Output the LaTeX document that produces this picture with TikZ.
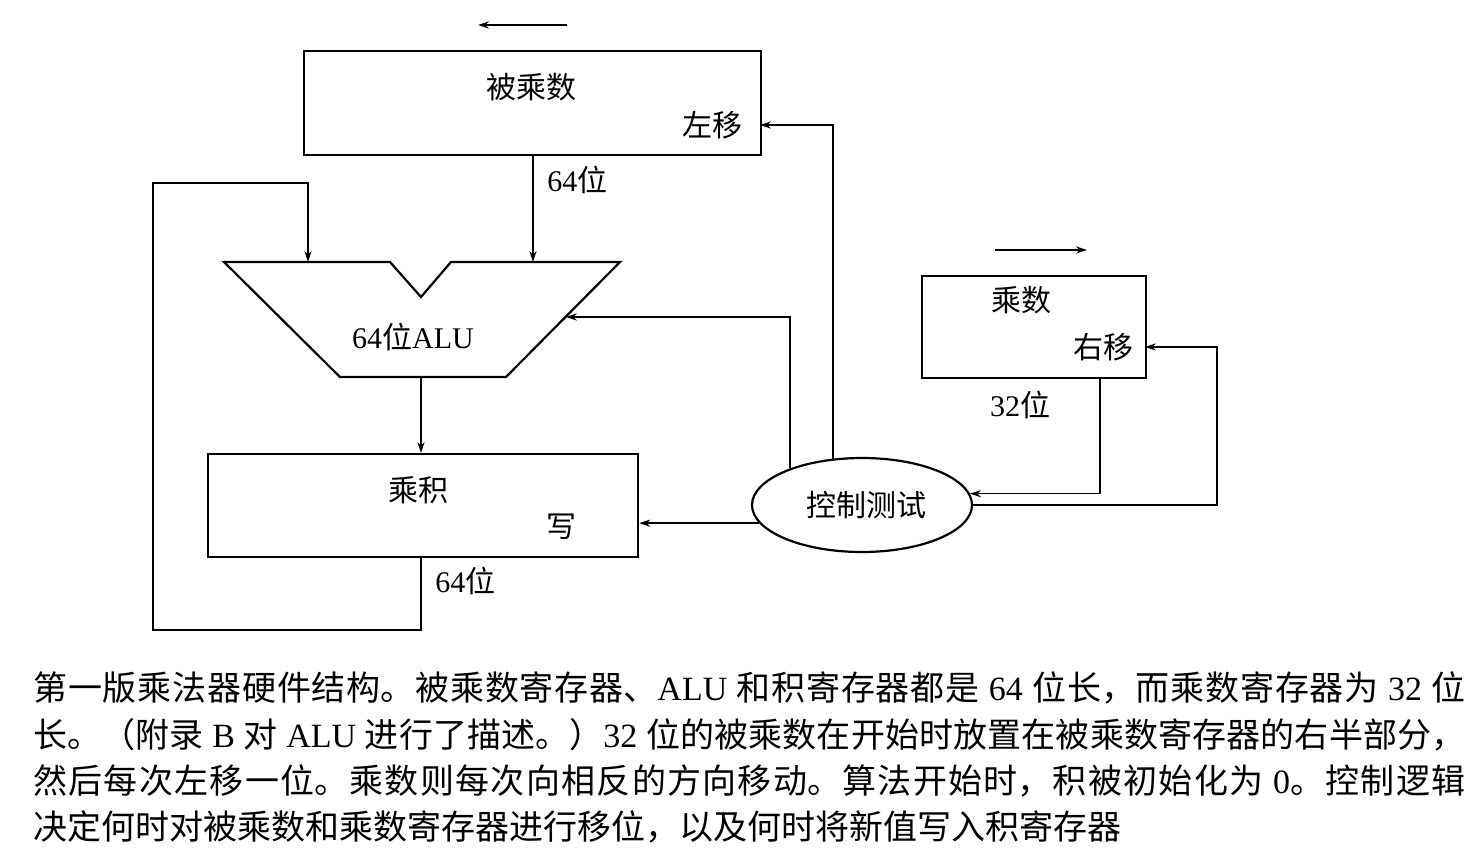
\documentclass[tikz,border=0pt]{standalone}
\usepackage{fontspec}
\setmainfont{Liberation Serif}
\newfontfamily\cjk{Noto Sans CJK SC}
\usetikzlibrary{shapes.geometric,arrows.meta}
\XeTeXlinebreaklocale "zh"
\XeTeXlinebreakskip=0pt plus 2pt
\newcommand{\jline}[1]{\parbox{716pt}{\parindent=0pt\parfillskip=0pt\relax #1\par}}
\begin{document}
\begin{tikzpicture}[x=0.5pt,y=-0.5pt,
  reg/.style={draw,line width=1.1pt,inner sep=0,anchor=north west},
  lab/.style={font=\fontsize{15}{18}\selectfont,inner sep=0},
  arr/.style={line width=0.75pt,-{Stealth[length=5.5pt,width=3.6pt]}},
  captext/.style={font=\fontsize{17}{20}\selectfont,inner sep=0,anchor=west}]
\useasboundingbox (0,0) rectangle (1484,853);
% registers
\node[reg,minimum width=228.5pt,minimum height=52pt] (mcand) at (303,50) {};
\node[reg,minimum width=215pt,minimum height=51.5pt] (prod) at (207,453) {};
\node[reg,minimum width=112pt,minimum height=51pt] (mplier) at (921,275) {};
\node[draw,ellipse,line width=1.1pt,inner sep=0,minimum width=110pt,minimum height=47pt] (ctl) at (862,505) {};
% ALU
\draw[line width=1.1pt] (224,262) -- (390,262) -- (421,297) -- (451,262) -- (620,262) -- (506,377) -- (340,377) -- cycle;
\coordinate (aluL) at (308,262);
\coordinate (aluR) at (533,262);
\coordinate (aluB) at (421,377);
\coordinate (aluIn) at (566,317);
\coordinate (fbA) at (153,630);
\coordinate (fbB) at (308,183);
\coordinate (shl) at (760,125);
\coordinate (shr) at (1145,347);
\coordinate (mr) at (1217,347);
\coordinate (mb) at (1100,377);
% labels
\node[lab] (t1) at (531,87) {\cjk 被乘数};
\node[lab] (t2) at (712,125) {\cjk 左移};
\node[lab,anchor=west] (t3) at (547,180) {64{\cjk 位}};
\node[lab] (t4) at (413,337) {64{\cjk 位}ALU};
\node[lab] (t5) at (418,490) {\cjk 乘积};
\node[lab] (t6) at (561,527) {\cjk 写};
\node[lab,anchor=west] (t7) at (435,581) {64{\cjk 位}};
\node[lab] (t8) at (1021,300) {\cjk 乘数};
\node[lab] (t9) at (1103,347) {\cjk 右移};
\node[lab] (t10) at (1020,405) {32{\cjk 位}};
\node[lab] (t11) at (866,505) {\cjk 控制测试};
% direction arrows
\coordinate (la1) at (567,25);
\coordinate (la2) at (478,25);
\coordinate (ra1) at (995,250);
\coordinate (ra2) at (1087,250);
\draw[arr] (la1) -- (la2);
\draw[arr] (ra1) -- (ra2);
% connectors
\draw[arr] (mcand.south -| aluR) -- (aluR);
\draw[arr] (aluB) -- (prod.north -| aluB);
\draw[arr] (prod.south -| aluB) |- (fbA) |- (fbB) -- (aluL);
\draw[arr] (ctl.190) -- (prod.east |- ctl.190);
\draw[arr] (ctl.153) |- (aluIn);
\draw[arr] (ctl.122.6) |- (shl);
\draw[arr] (mb) |- (ctl.6.4);
\draw[arr] (ctl.east) -| (mr) -- (shr);
% caption
\node[captext] (c1) at (33,688) {\jline{\cjk 第一版乘法器硬件结构。被乘数寄存器、\rmfamily ALU \cjk 和积寄存器都是\rmfamily{} 64 \cjk 位长，而乘数寄存器为\rmfamily{} 32 \cjk 位}};
\node[captext] (c2) at (33,735) {\jline{\cjk 长。（附录\rmfamily{} B \cjk 对\rmfamily{} ALU \cjk 进行了描述。）\rmfamily 32 \cjk 位的被乘数在开始时放置在被乘数寄存器的右半部分，}};
\node[captext] (c3) at (33,781) {\jline{\cjk 然后每次左移一位。乘数则每次向相反的方向移动。算法开始时，积被初始化为\rmfamily{} 0\cjk 。控制逻辑}};
\node[captext] (c4) at (33,827) {\cjk 决定何时对被乘数和乘数寄存器进行移位，以及何时将新值写入积寄存器};
\end{tikzpicture}
\end{document}
